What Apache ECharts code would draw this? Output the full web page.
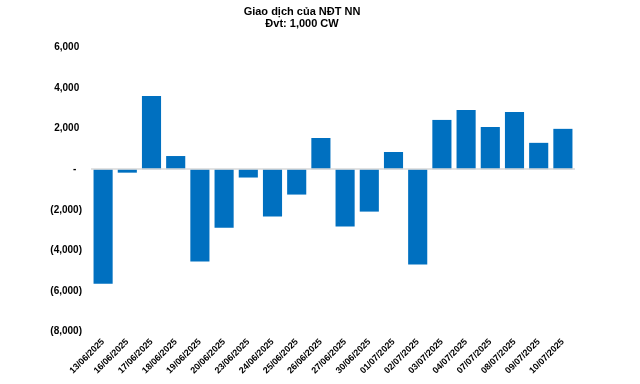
<!DOCTYPE html>
<html><head><meta charset="utf-8">
<script src="https://cdn.jsdelivr.net/npm/echarts@6/dist/echarts.min.js"></script>
<style>html,body{margin:0;padding:0;background:#fff}#c{width:640px;height:384px}</style>
</head><body><div id="c"></div>
<script>
const categories = ["13/06/2025","16/06/2025","17/06/2025","18/06/2025","19/06/2025","20/06/2025","23/06/2025","24/06/2025","25/06/2025","26/06/2025","27/06/2025","30/06/2025","01/07/2025","02/07/2025","03/07/2025","04/07/2025","07/07/2025","08/07/2025","09/07/2025","10/07/2025"];
const values = [-5640,-170,3610,650,-4550,-2880,-410,-2330,-1250,1540,-2830,-2090,850,-4700,2430,2920,2080,2820,1300,1990];
const titleLines = ["Giao dịch của NĐT NN","Đvt: 1,000 CW"];

function fmt(v){
  if (v === 0) return '-  ';
  const s = Math.abs(v).toLocaleString('en-US');
  return v < 0 ? '(' + s + ')' : s + ' ';
}
const chart = echarts.init(document.getElementById('c'));
chart.setOption({
  animation:false,
  textStyle:{fontFamily:'"Liberation Sans", Arial, sans-serif'},
  title:{text:titleLines.join('\n'),left:297,top:1,textAlign:'center',
    textStyle:{fontSize:11,fontWeight:'bold',color:'#000',lineHeight:12,fontFamily:'"Liberation Sans", Arial, sans-serif'}},
  grid:{left:91,right:65,top:47.5,height:284,containLabel:false},
  xAxis:{type:'category',data:categories,
    axisLine:{show:false,onZero:false},axisTick:{show:false},
    axisLabel:{rotate:45,fontSize:9,fontWeight:'bold',color:'#000',margin:9,interval:0,
      fontFamily:'"Liberation Sans", Arial, sans-serif'}},
  yAxis:{type:'value',min:-8000,max:6000,interval:2000,
    axisLine:{show:false},axisTick:{show:false},splitLine:{show:false},
    axisLabel:{formatter:fmt,fontSize:10,fontWeight:'bold',color:'#000',margin:9,
      fontFamily:'"Liberation Sans", Arial, sans-serif'}},
  series:[{type:'bar',data:values,barCategoryGap:'21%',itemStyle:{color:'#0070C0'},
    markLine:{silent:true,symbol:'none',label:{show:false},
      lineStyle:{color:'#d9d9d9',width:1.5,type:'solid'},data:[{yAxis:0}]}}]
});
</script></body></html>
